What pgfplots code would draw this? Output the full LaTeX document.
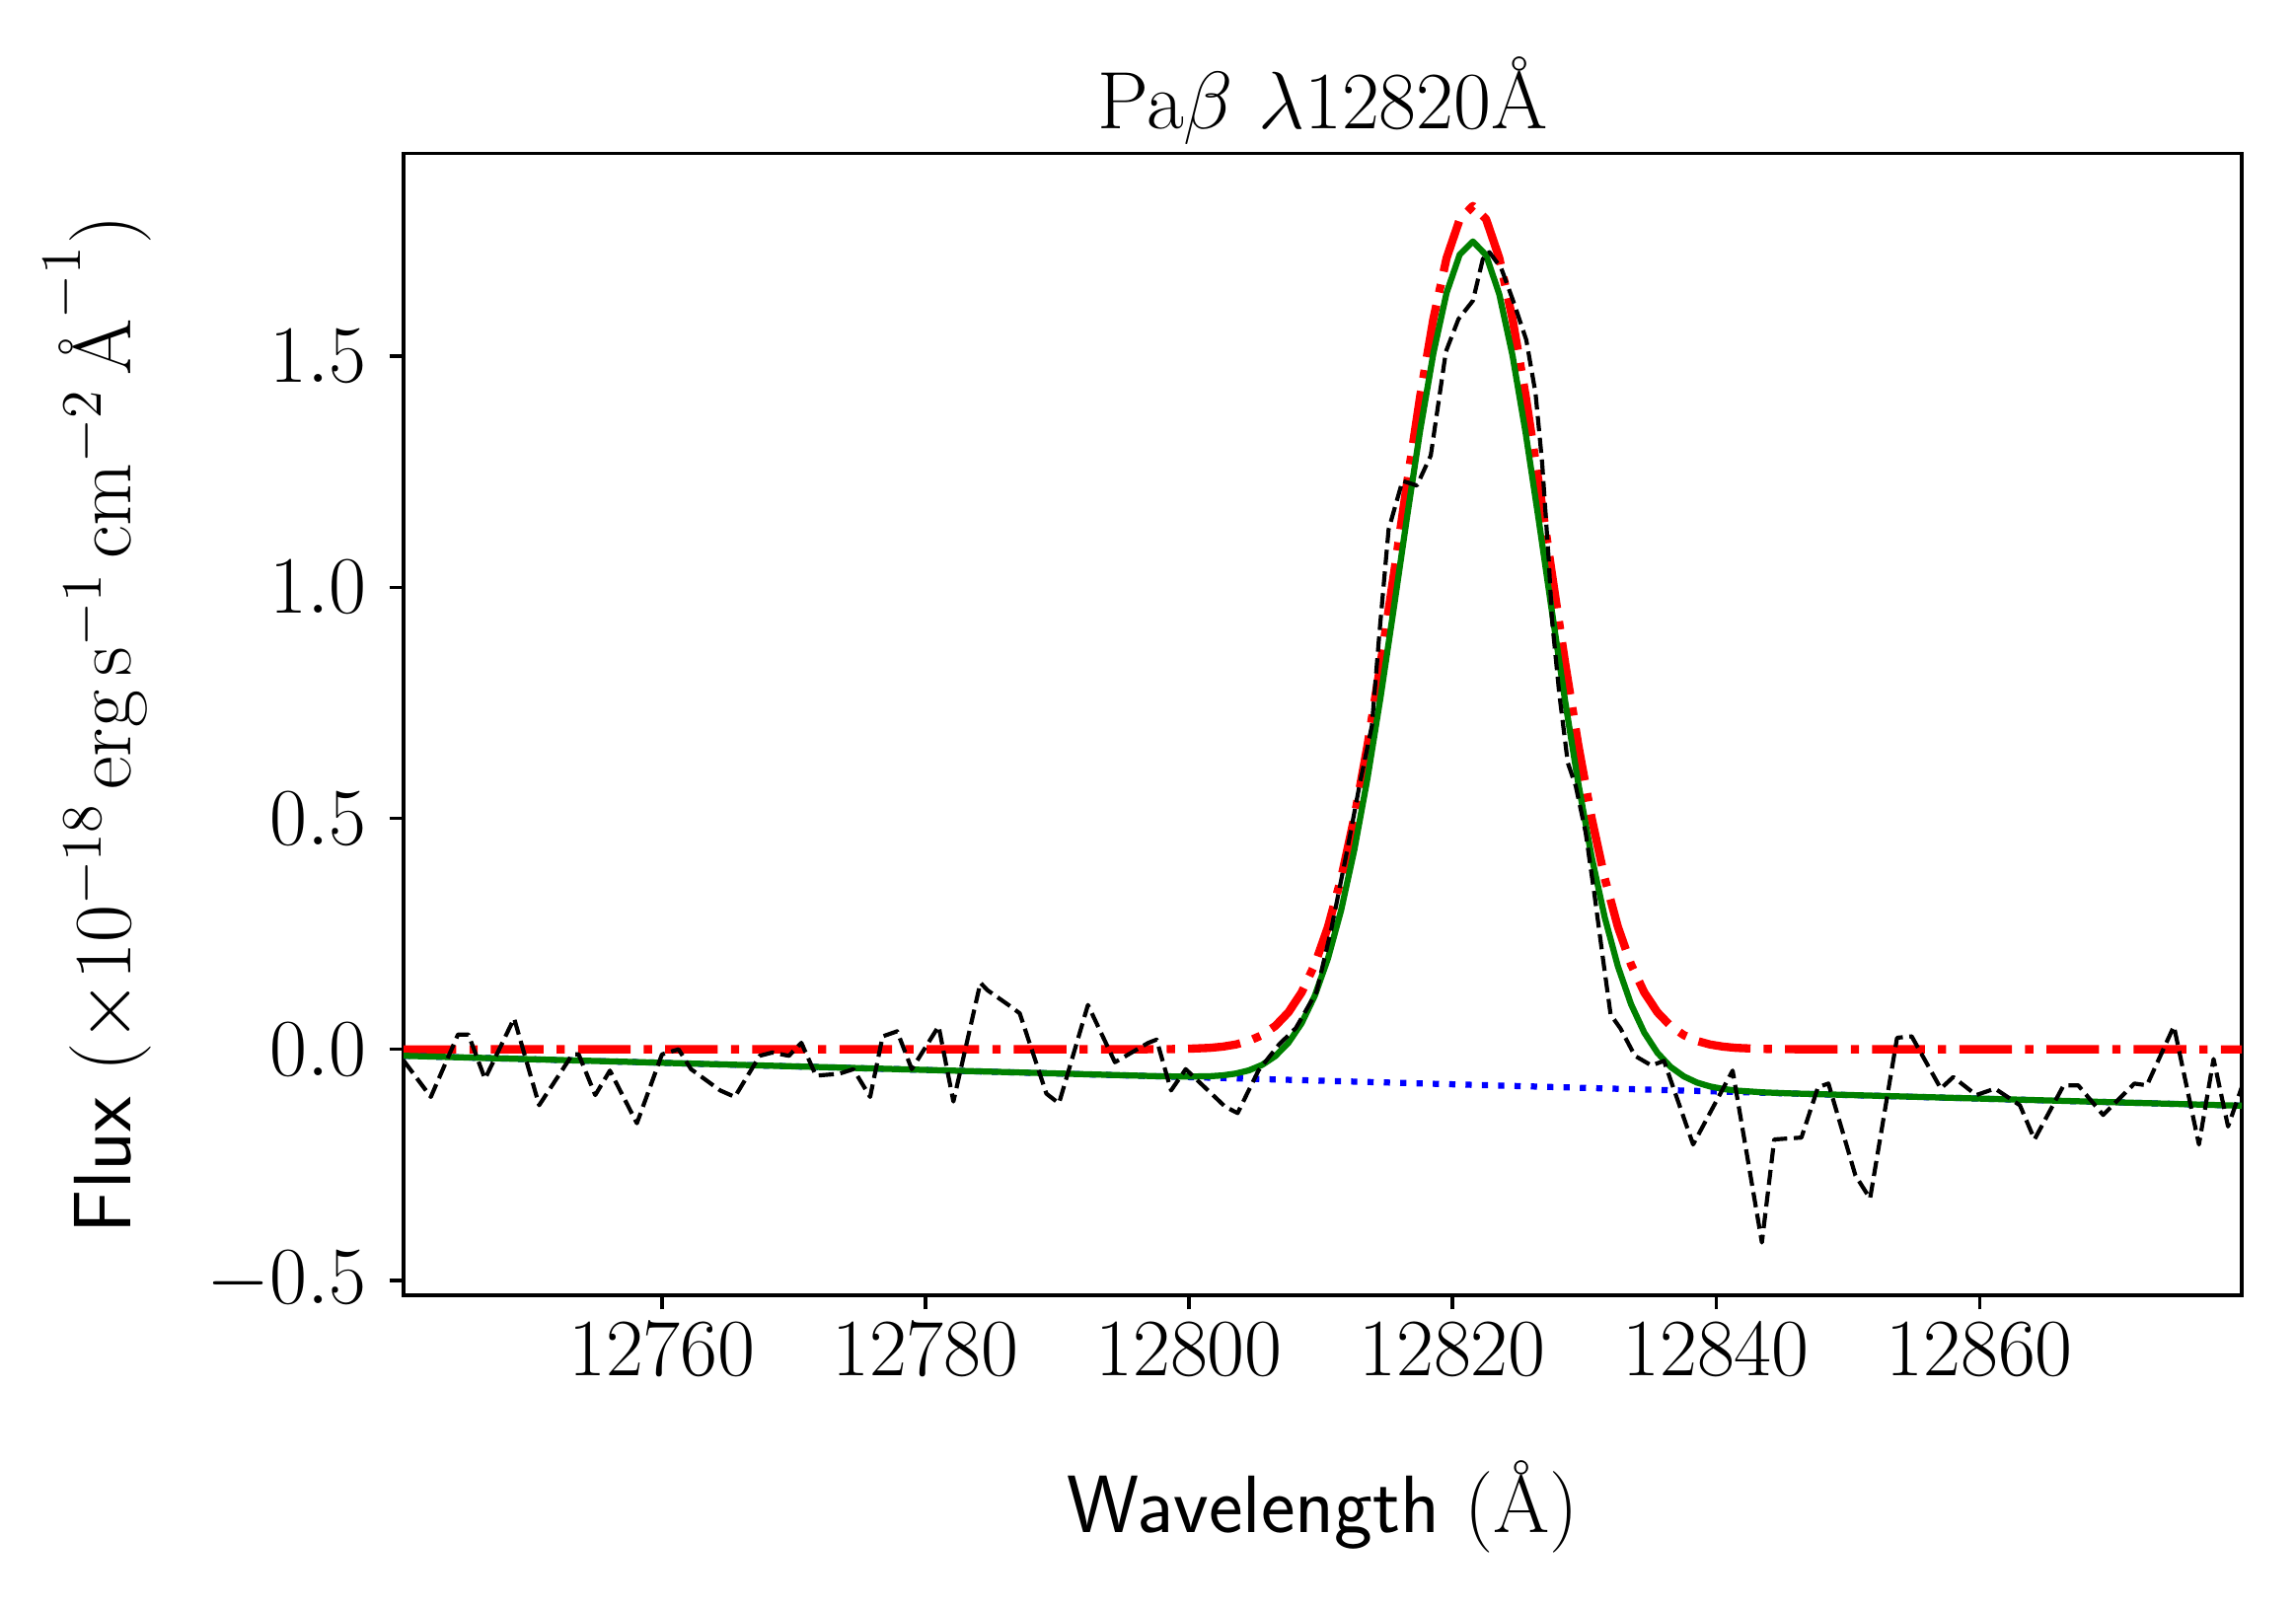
\RequirePackage{fix-cm}
\documentclass[border=0pt]{standalone}
\usepackage{pgfplots}
\pgfplotsset{compat=1.18}
\definecolor{mplgreen}{rgb}{0,0.5,0}
\newcommand{\bigfont}{\fontsize{19.8}{23.8}\selectfont}
\begin{document}
\begin{tikzpicture}
\useasboundingbox (-98.2pt,-76.1pt) rectangle (460.3pt,315.1pt);
\begin{axis}[
  at={(0pt,0pt)}, anchor=south west,
  scale only axis, width=447.1pt, height=277.7pt,
  xmin=12740.4, xmax=12879.9, ymin=-0.532, ymax=1.938,
  xtick={12760,12780,12800,12820,12840,12860},
  ytick={-0.5,0,0.5,1,1.5},
  scaled x ticks=false, scaled y ticks=false,
  xtick pos=bottom, ytick pos=left,
  tick align=outside, major tick length=3.5pt,
  every tick/.style={black, line width=0.8pt},
  axis line style={line width=0.8pt},
  xticklabel style={font=\bigfont, inner sep=3.2pt, /pgf/number format/fixed, /pgf/number format/precision=0, /pgf/number format/1000 sep={}},
  yticklabel style={font=\bigfont, inner sep=5.3pt, /pgf/number format/fixed, /pgf/number format/fixed zerofill, /pgf/number format/precision=1},
  title={Pa$\beta$ $\lambda$12820\AA},
  title style={font=\bigfont, at={(axis description cs:0.5,1)}, anchor=base, yshift=0pt},
  xlabel={\textsf{Wavelength} (\AA)},
  xlabel style={font=\bigfont, at={(axis description cs:0.5,0)}, anchor=base, yshift=-57.8pt},
  ylabel={\textsf{Flux} ($\times10^{-18}\,\mathrm{erg\,s^{-1}\,cm^{-2}}\,\mbox{\AA}^{-1}$)},
  ylabel style={font=\bigfont, at={(axis description cs:-0.1485,0.5)}, anchor=base},
  every axis plot/.append style={mark=none, line join=round},
]
% Gaussian line component (red dash-dot)
\addplot[red, line width=2pt, dash pattern=on 12.8pt off 3.2pt on 2pt off 3.2pt] coordinates {
(12740.4,0) (12797.55,0.0002) (12799.55,0.0008) (12801.55,0.0031) (12802.55,0.0058)
(12803.55,0.0104) (12804.55,0.0182) (12805.55,0.0308) (12806.55,0.0505) (12807.55,0.0802)
(12808.55,0.1233) (12809.55,0.1837) (12810.55,0.2651) (12811.55,0.3705) (12812.55,0.5017)
(12813.55,0.6578) (12814.55,0.8355) (12815.55,1.0280) (12816.55,1.2250) (12817.55,1.4141)
(12818.55,1.5811) (12819.55,1.7123) (12820.55,1.7961) (12821.55,1.8250) (12822.55,1.7961)
(12823.55,1.7123) (12824.55,1.5811) (12825.55,1.4141) (12826.55,1.2250) (12827.55,1.0280)
(12828.55,0.8355) (12829.55,0.6578) (12830.55,0.5017) (12831.55,0.3705) (12832.55,0.2651)
(12833.55,0.1837) (12834.55,0.1233) (12835.55,0.0802) (12836.55,0.0505) (12837.55,0.0308)
(12838.55,0.0182) (12839.55,0.0104) (12840.55,0.0058) (12841.55,0.0031) (12843.55,0.0008)
(12845.55,0.0002) (12879.9,0)
};
% Continuum (blue dotted)
\addplot[blue, line width=1.5pt, dash pattern=on 1.5pt off 2.475pt] coordinates {
(12740.4,-0.014) (12879.9,-0.1221)
};
% Total model (green)
\addplot[mplgreen, line width=1.5pt] coordinates {
(12740.4,-0.014) (12797.55,-0.0581) (12799.55,-0.0590) (12801.55,-0.0583) (12802.55,-0.0564)
(12803.55,-0.0525) (12804.55,-0.0455) (12805.55,-0.0337) (12806.55,-0.0148) (12807.55,0.0142)
(12808.55,0.0565) (12809.55,0.1161) (12810.55,0.1967) (12811.55,0.3014) (12812.55,0.4318)
(12813.55,0.5871) (12814.55,0.7640) (12815.55,0.9558) (12816.55,1.1520) (12817.55,1.3403)
(12818.55,1.5065) (12819.55,1.6370) (12820.55,1.7200) (12821.55,1.7481) (12822.55,1.7184)
(12823.55,1.6339) (12824.55,1.5019) (12825.55,1.3341) (12826.55,1.1442) (12827.55,0.9465)
(12828.55,0.7532) (12829.55,0.5747) (12830.55,0.4178) (12831.55,0.2859) (12832.55,0.1797)
(12833.55,0.0975) (12834.55,0.0363) (12835.55,-0.0075) (12836.55,-0.0380) (12837.55,-0.0585)
(12838.55,-0.0719) (12839.55,-0.0804) (12840.55,-0.0858) (12841.55,-0.0893) (12843.55,-0.0931)
(12845.55,-0.0953) (12879.9,-0.1221)
};
% Observed spectrum (black dashed)
\addplot[black, line width=1pt, dash pattern=on 3.7pt off 1.6pt] coordinates {
(12740.41,-0.025) (12742.46,-0.103) (12744.52,0.032) (12745.31,0.032) (12746.57,-0.064)
(12748.78,0.067) (12750.68,-0.121) (12753.21,-0.011) (12753.68,-0.011) (12754.94,-0.099)
(12756.05,-0.046) (12758.10,-0.160) (12760.00,-0.011) (12761.26,0.000) (12762.21,-0.043)
(12764.42,-0.089) (12765.53,-0.103) (12767.42,-0.014) (12768.37,-0.007) (12769.64,-0.014)
(12770.58,0.014) (12771.69,-0.057) (12773.43,-0.053) (12774.53,-0.043) (12775.80,-0.103)
(12776.75,0.028) (12777.85,0.039) (12778.96,-0.043) (12781.00,0.050) (12782.12,-0.113)
(12784.17,0.144) (12784.70,0.128) (12786.30,0.096) (12787.15,0.078) (12789.18,-0.096)
(12790.13,-0.117) (12792.33,0.096) (12794.38,-0.028) (12796.91,0.014) (12797.54,0.021)
(12798.64,-0.089) (12799.75,-0.043) (12802.74,-0.124) (12803.69,-0.138) (12805.27,-0.046)
(12806.85,0.011) (12808.11,0.046) (12809.68,0.124) (12810.80,0.26) (12812.00,0.43)
(12813.00,0.58) (12813.88,0.70) (12814.45,0.90) (12815.15,1.125) (12816.20,1.23)
(12817.30,1.22) (12818.35,1.285) (12819.50,1.51) (12820.45,1.58) (12821.55,1.62)
(12822.30,1.71) (12822.80,1.725) (12823.70,1.69) (12824.60,1.62) (12825.60,1.535)
(12826.30,1.42) (12826.80,1.27) (12827.30,1.06) (12827.55,0.93) (12828.10,0.77)
(12828.75,0.62) (12829.35,0.57) (12830.10,0.47) (12830.75,0.34) (12831.40,0.20)
(12832.00,0.075) (12832.75,0.045) (12833.84,-0.014) (12835.10,-0.035) (12836.05,-0.025)
(12838.26,-0.206) (12841.26,-0.046) (12843.48,-0.418) (12844.42,-0.195) (12846.48,-0.191)
(12847.74,-0.082) (12848.53,-0.074) (12850.58,-0.273) (12851.69,-0.323) (12853.74,0.025)
(12854.85,0.028) (12857.06,-0.085) (12858.00,-0.060) (12859.75,-0.099) (12861.17,-0.085)
(12863.06,-0.121) (12864.17,-0.195) (12866.38,-0.078) (12867.49,-0.078) (12869.38,-0.142)
(12871.75,-0.074) (12872.70,-0.078) (12874.75,0.050) (12876.65,-0.206) (12877.76,-0.021)
(12878.86,-0.167) (12879.90,-0.082)
};
\end{axis}
\end{tikzpicture}
\end{document}
